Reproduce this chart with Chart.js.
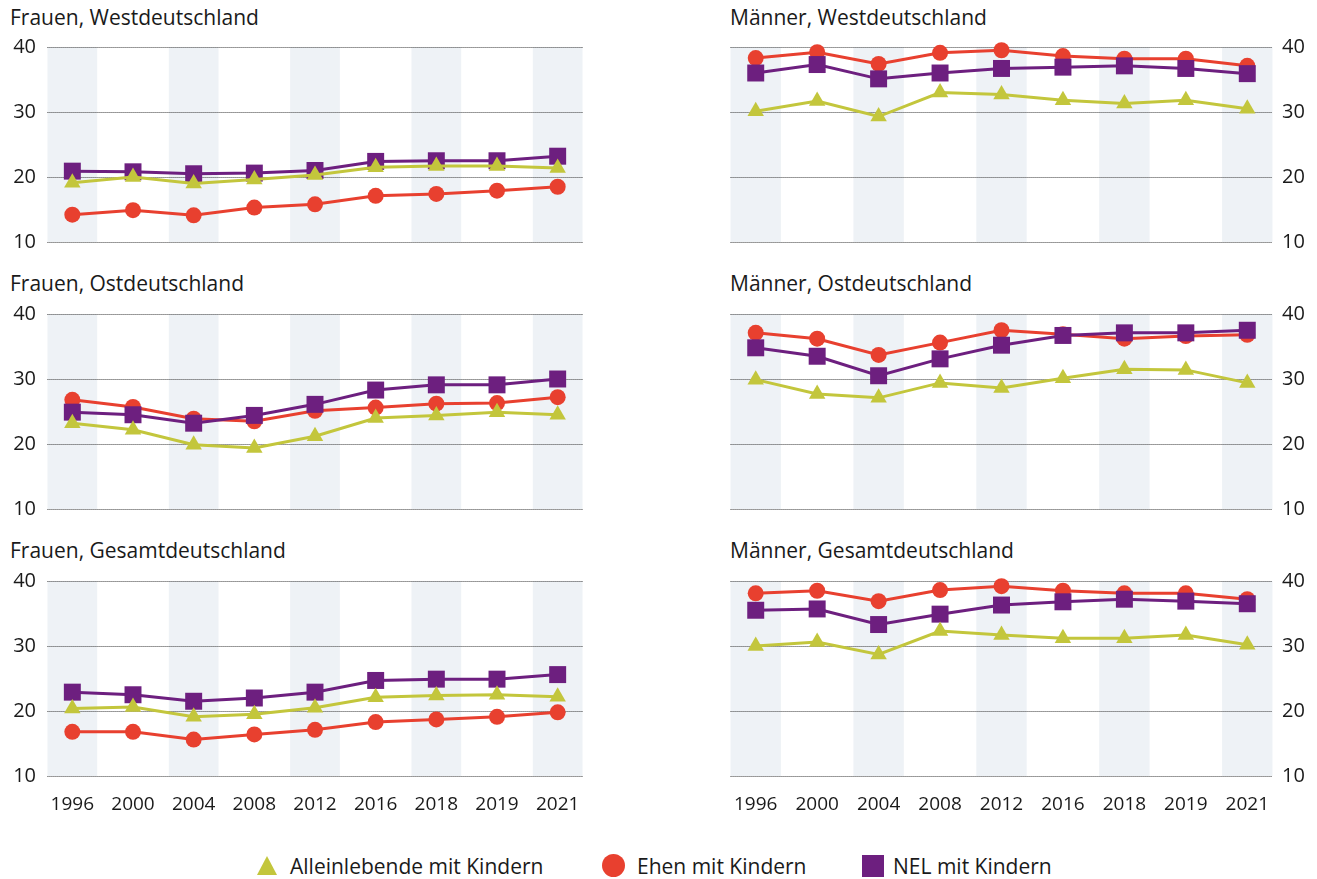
<!DOCTYPE html>
<html lang="de">
<head>
<meta charset="utf-8">
<title>Anteile nach Lebensform</title>
<script src="https://cdn.jsdelivr.net/npm/chart.js@4.4.0/dist/chart.umd.min.js"></script>
<style>
  html, body { margin: 0; padding: 0; background: #ffffff; }
  body { width: 1317px; height: 879px; position: relative; overflow: hidden;
         font-family: "Open Sans", "Noto Sans", sans-serif; color: #1a1a1a; }
  canvas { position: absolute; }
  .title { position: absolute; font-size: 21px; line-height: 24px; white-space: nowrap; }
  .lg-text { position: absolute; font-size: 21px; line-height: 24px; white-space: nowrap; top: 854px; }
  .mk { position: absolute; }
  .mk-tri { width: 0; height: 0; border-left: 10px solid transparent; border-right: 10px solid transparent;
            border-bottom: 19px solid #c3c63c; left: 257px; top: 856px; }
  .mk-circ { width: 23px; height: 23px; border-radius: 50%; background: #e8402f; left: 602px; top: 854px; }
  .mk-sq { width: 22px; height: 22px; background: #6d1f7f; left: 862px; top: 855px; }
</style>
</head>
<body>
<div id="stage"></div>

<div class="mk mk-tri"></div><div class="lg-text" style="left:290px">Alleinlebende mit Kindern</div>
<div class="mk mk-circ"></div><div class="lg-text" style="left:637px">Ehen mit Kindern</div>
<div class="mk mk-sq"></div><div class="lg-text" style="left:893px">NEL mit Kindern</div>

<script>
// Survey years (categories) and value-axis ticks
const years = ['1996', '2000', '2004', '2008', '2012', '2016', '2018', '2019', '2021'];
const yTicks = [10, 20, 30, 40];

// Frauen, Westdeutschland
const fwAllein = [19.1, 20.0, 19.0, 19.6, 20.3, 21.5, 21.7, 21.7, 21.4];
const fwEhen   = [14.2, 14.9, 14.1, 15.3, 15.8, 17.1, 17.4, 17.9, 18.5];
const fwNel    = [20.9, 20.8, 20.5, 20.6, 21.0, 22.4, 22.5, 22.5, 23.2];

// Männer, Westdeutschland
const mwAllein = [30.1, 31.7, 29.3, 33.0, 32.7, 31.8, 31.3, 31.8, 30.5];
const mwEhen   = [38.3, 39.2, 37.4, 39.1, 39.5, 38.6, 38.2, 38.2, 37.1];
const mwNel    = [36.0, 37.3, 35.1, 36.0, 36.7, 36.9, 37.1, 36.7, 35.9];

// Frauen, Ostdeutschland
const foAllein = [23.2, 22.2, 19.9, 19.4, 21.2, 24.0, 24.4, 24.9, 24.5];
const foEhen   = [26.8, 25.7, 23.9, 23.5, 25.1, 25.6, 26.2, 26.3, 27.2];
const foNel    = [24.9, 24.5, 23.2, 24.4, 26.1, 28.3, 29.1, 29.1, 30.0];

// Männer, Ostdeutschland
const moAllein = [29.9, 27.7, 27.1, 29.4, 28.6, 30.1, 31.5, 31.4, 29.4];
const moEhen   = [37.1, 36.2, 33.7, 35.6, 37.5, 36.9, 36.2, 36.6, 36.8];
const moNel    = [34.8, 33.5, 30.5, 33.1, 35.2, 36.7, 37.1, 37.1, 37.5];

// Frauen, Gesamtdeutschland
const fgAllein = [20.4, 20.6, 19.1, 19.5, 20.5, 22.1, 22.4, 22.5, 22.2];
const fgEhen   = [16.8, 16.8, 15.6, 16.4, 17.1, 18.3, 18.7, 19.1, 19.8];
const fgNel    = [22.9, 22.5, 21.5, 22.0, 22.9, 24.7, 24.9, 24.9, 25.6];

// Männer, Gesamtdeutschland
const mgAllein = [30.0, 30.6, 28.7, 32.3, 31.7, 31.2, 31.2, 31.7, 30.2];
const mgEhen   = [38.1, 38.5, 36.9, 38.6, 39.2, 38.5, 38.1, 38.1, 37.2];
const mgNel    = [35.5, 35.7, 33.3, 34.9, 36.3, 36.8, 37.2, 36.9, 36.5];

const seriesNames = ['Alleinlebende mit Kindern', 'Ehen mit Kindern', 'NEL mit Kindern'];

const COLORS = { allein: '#c3c63c', ehen: '#e8402f', nel: '#6d1f7f' };
const BAND = '#eef2f6';
const GRID = '#3a3a3a';
const TEXT = '#1a1a1a';
const FONT = '"Open Sans", "Noto Sans", sans-serif';

const panels = [
  { title: 'Frauen, Westdeutschland',  col: 0, row: 0, data: [fwAllein, fwEhen, fwNel] },
  { title: 'Männer, Westdeutschland',  col: 1, row: 0, data: [mwAllein, mwEhen, mwNel] },
  { title: 'Frauen, Ostdeutschland',   col: 0, row: 1, data: [foAllein, foEhen, foNel] },
  { title: 'Männer, Ostdeutschland',   col: 1, row: 1, data: [moAllein, moEhen, moNel] },
  { title: 'Frauen, Gesamtdeutschland', col: 0, row: 2, data: [fgAllein, fgEhen, fgNel] },
  { title: 'Männer, Gesamtdeutschland', col: 1, row: 2, data: [mgAllein, mgEhen, mgNel] }
];

// Layout of the 3 x 2 grid
const rowAreaTop = [47, 314, 581];
const rowTitleTop = [5, 271, 538];
const AREA_H = 195;
const PAD_V = 22;
const XAXIS_H = 45;

// Shaded column bands behind every other year plus dotted horizontal grid
const bandsAndGrid = {
  id: 'bandsAndGrid',
  beforeDatasetsDraw(chart) {
    const { ctx, chartArea, scales: { x, y } } = chart;
    const sp = x.getPixelForValue(1) - x.getPixelForValue(0);
    const hw = sp * 0.41;
    const n = years.length;
    ctx.save();
    ctx.fillStyle = BAND;
    for (let i = 0; i < n; i += 2) {
      const cx = x.getPixelForValue(i);
      ctx.fillRect(cx - hw, chartArea.top, hw * 2, chartArea.bottom - chartArea.top);
    }
    const x0 = x.getPixelForValue(0) - hw;
    const x1 = x.getPixelForValue(n - 1) + hw;
    ctx.strokeStyle = GRID;
    ctx.lineWidth = 1;
    ctx.setLineDash([1, 1]);
    yTicks.forEach(v => {
      const py = Math.round(y.getPixelForValue(v)) + 0.5;
      ctx.beginPath();
      ctx.moveTo(x0, py);
      ctx.lineTo(x1, py);
      ctx.stroke();
    });
    ctx.restore();
  }
};

const stage = document.getElementById('stage');

panels.forEach(p => {
  const left = p.col === 0;
  const bottomRow = p.row === 2;
  const cLeft = left ? 0 : 700;
  const cWidth = left ? 600 : 617;
  const cTop = rowAreaTop[p.row] - PAD_V;
  const cHeight = PAD_V + AREA_H + (bottomRow ? XAXIS_H : PAD_V);

  const t = document.createElement('div');
  t.className = 'title';
  t.textContent = p.title;
  t.style.left = (left ? 10 : 730) + 'px';
  t.style.top = rowTitleTop[p.row] + 'px';
  stage.appendChild(t);

  const cv = document.createElement('canvas');
  cv.width = cWidth;
  cv.height = cHeight;
  cv.style.left = cLeft + 'px';
  cv.style.top = cTop + 'px';
  cv.style.width = cWidth + 'px';
  cv.style.height = cHeight + 'px';
  stage.appendChild(cv);

  const mk = (idx, color, style, radius, order) => ({
    label: seriesNames[idx],
    data: p.data[idx],
    borderColor: color,
    backgroundColor: color,
    borderWidth: 3,
    pointStyle: style,
    pointRadius: radius,
    pointBorderWidth: 0,
    pointBackgroundColor: color,
    tension: 0,
    clip: false,
    order: order
  });

  const xScale = {
    type: 'category',
    offset: true,
    display: bottomRow,
    grid: { display: false, drawTicks: false },
    border: { display: false },
    ticks: {
      color: TEXT,
      padding: 17,
      maxRotation: 0,
      autoSkip: false,
      font: { family: FONT, size: 19 }
    }
  };
  if (bottomRow) xScale.afterFit = s => { s.height = XAXIS_H; };

  new Chart(cv, {
    type: 'line',
    data: {
      labels: years,
      datasets: [
        mk(0, COLORS.allein, 'triangle', 9.5, 0),
        mk(1, COLORS.ehen, 'circle', 8, 2),
        mk(2, COLORS.nel, 'rect', 12, 1)
      ]
    },
    options: {
      responsive: false,
      animation: false,
      devicePixelRatio: 1,
      layout: {
        padding: {
          left: left ? 0 : 25,
          right: left ? 4 : 0,
          top: PAD_V,
          bottom: bottomRow ? 0 : PAD_V
        }
      },
      plugins: { legend: { display: false }, tooltip: { enabled: false }, title: { display: false } },
      scales: {
        x: xScale,
        y: {
          position: left ? 'left' : 'right',
          min: 10,
          max: 40,
          grid: { display: false, drawTicks: false },
          border: { display: false },
          ticks: {
            stepSize: 10,
            color: TEXT,
            padding: left ? 6 : 4,
            font: { family: FONT, size: 20 }
          },
          afterFit: s => { s.width = left ? 42 : 39; }
        }
      }
    },
    plugins: [bandsAndGrid]
  });
});
</script>
</body>
</html>
